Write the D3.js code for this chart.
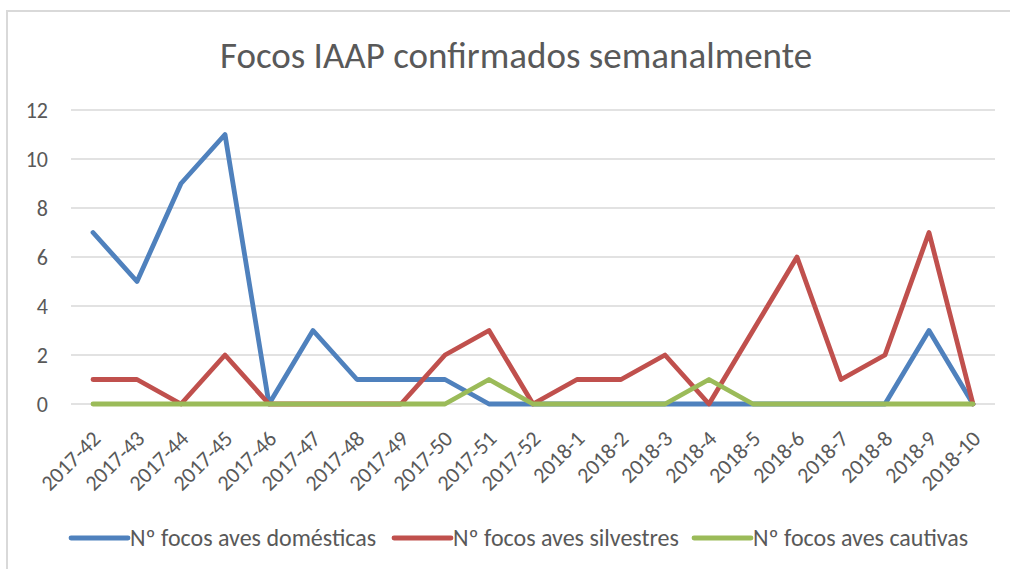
<!DOCTYPE html>
<html>
<head>
<meta charset="utf-8">
<script src="https://cdn.jsdelivr.net/npm/d3@7"></script>
<style>
  body { margin: 0; background: #fff; }
  svg { display: block; font-family: Carlito, Lato, "Open Sans", sans-serif; }
</style>
</head>
<body>
<svg id="chart" width="1010" height="569"></svg>
<script>
let semanas = ["2017-42","2017-43","2017-44","2017-45","2017-46","2017-47","2017-48","2017-49","2017-50","2017-51","2017-52",
  "2018-1","2018-2","2018-3","2018-4","2018-5","2018-6","2018-7","2018-8","2018-9","2018-10"]
let domesticas = [7,5,9,11,0,3,1,1,1,0,0,0,0,0,0,0,0,0,0,3,0]
let silvestres = [1,1,0,2,0,0,0,0,2,3,0,1,1,2,0,3,6,1,2,7,0]
let cautivas   = [0,0,0,0,0,0,0,0,0,1,0,0,0,0,1,0,0,0,0,0,0]
let yTicks = [0,2,4,6,8,10,12]

let series = [
  { name: "Nº focos aves domésticas", values: domesticas, color: "#4F81BD" },
  { name: "Nº focos aves silvestres", values: silvestres, color: "#C0504D" },
  { name: "Nº focos aves cautivas", values: cautivas, color: "#9BBB59" }
]

let svg = d3.select("#chart")

// borde del gráfico
svg.append("line").attr("x1", 7).attr("x2", 7).attr("y1", 11).attr("y2", 569)
  .attr("stroke", "#d9d9d9").attr("stroke-width", 2)
svg.append("line").attr("x1", 6).attr("x2", 1010).attr("y1", 11).attr("y2", 11)
  .attr("stroke", "#d9d9d9").attr("stroke-width", 2)

svg.append("text")
  .attr("x", 516).attr("y", 68)
  .attr("text-anchor", "middle")
  .style("font-size", "37px")
  .style("fill", "#595959")
  .text("Focos IAAP confirmados semanalmente")

let xScale = d3.scaleBand().domain(semanas).range([71, 995])
let yScale = d3.scaleLinear().domain([0, 12]).range([404, 110])
let xc = d => xScale(d) + xScale.bandwidth() / 2

// rejilla y eje Y
let yAxis = d3.axisLeft(yScale).tickValues(yTicks).tickSize(0).tickPadding(0)
let yAxisGroup = svg.append("g").attr("transform", "translate(48,0)").call(yAxis)
yAxisGroup.select(".domain").remove()
yAxisGroup.selectAll("text").style("font-size", "22px").style("fill", "#595959")
yAxisGroup.attr("font-family", null).attr("font-size", null)

svg.append("g").selectAll("line").data(yTicks).enter().append("line")
  .attr("x1", 71).attr("x2", 995)
  .attr("y1", d => yScale(d)).attr("y2", d => yScale(d))
  .attr("stroke", "#d9d9d9").attr("stroke-width", 1.3)

// eje X
let xAxisGroup = svg.append("g").attr("transform", "translate(0,404)")
  .call(d3.axisBottom(xScale).tickSize(0).tickPadding(0))
xAxisGroup.attr("font-family", null).attr("font-size", null)
xAxisGroup.select(".domain").remove()
xAxisGroup.selectAll("text")
  .style("font-size", "22px")
  .style("fill", "#595959")
  .attr("text-anchor", "end")
  .attr("dy", null)
  .attr("transform", "translate(9,36) rotate(-45)")

// líneas
let line = d3.line().x((d, i) => xc(semanas[i])).y(d => yScale(d))
svg.append("g").selectAll("path").data(series).enter().append("path")
  .attr("d", d => line(d.values))
  .attr("fill", "none")
  .attr("stroke", d => d.color)
  .attr("stroke-width", 4.8)
  .attr("stroke-linejoin", "round")
  .attr("stroke-linecap", "round")

// leyenda
let legX = [71, 394, 694]
let leg = svg.append("g").selectAll("g").data(series).enter().append("g")
  .attr("transform", (d, i) => `translate(${legX[i]},538)`)
leg.append("line").attr("x1", 0).attr("x2", 57)
  .attr("stroke", d => d.color).attr("stroke-width", 4.8).attr("stroke-linecap", "round")
leg.append("text").attr("x", 59).attr("y", 8)
  .style("font-size", "24px").style("fill", "#595959")
  .text(d => d.name)
</script>
</body>
</html>
